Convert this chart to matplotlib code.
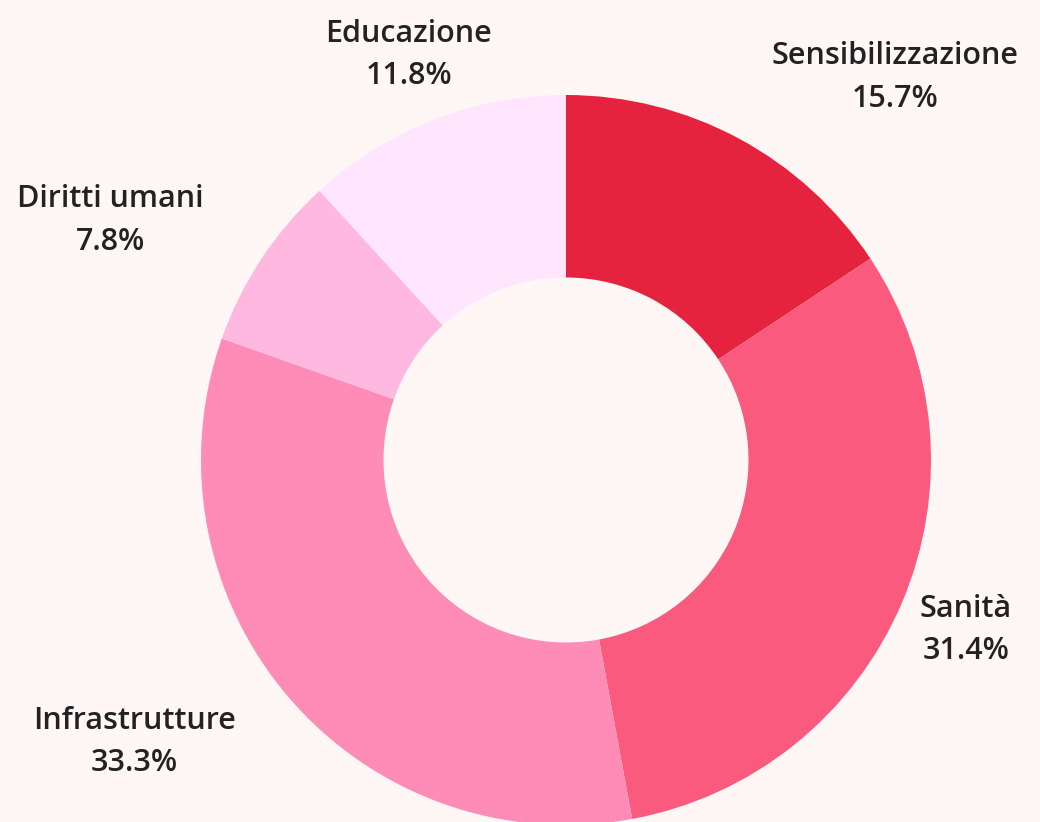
import matplotlib.pyplot as plt
import numpy as np

categorie = ['Sensibilizzazione', 'Sanità', 'Infrastrutture', 'Diritti umani', 'Educazione']
valori = [15.7, 31.4, 33.3, 7.8, 11.8]
colori = ['#E5233F', '#F95A7D', '#FE8CB6', '#FFB9E1', '#FFE5FD']
sfondo = '#FFF7F6'
allineamento = ['left', 'center', 'right', 'right', 'center']

fig = plt.figure(figsize=(10.4, 8.22), dpi=100, facecolor=sfondo)
ax = fig.add_axes([0, 0, 1, 1])
ax.set_facecolor(sfondo)

wedges, _ = ax.pie(valori, colors=colori, startangle=90, counterclock=False,
                   radius=1, wedgeprops=dict(width=0.5, linewidth=0))

# etichette fuori dall'anello
for w, nome, v, ha in zip(wedges, categorie, valori, allineamento):
    ang = np.deg2rad((w.theta1 + w.theta2) / 2)
    x, y = 1.19 * np.cos(ang), 1.19 * np.sin(ang)
    ax.text(x, y, f'{nome}\n{v:.1f}%', ha=ha, va='center',
            multialignment='center', fontsize=22, family='Open Sans',
            weight='semibold', color='#222222', linespacing=1.55)

ax.set_xlim(-566 / 365, (1040 - 566) / 365)
ax.set_ylim(-(822 - 460) / 365, 460 / 365)
ax.set_aspect('auto')
ax.axis('off')

fig.savefig('out.png', dpi=100, facecolor=sfondo)
